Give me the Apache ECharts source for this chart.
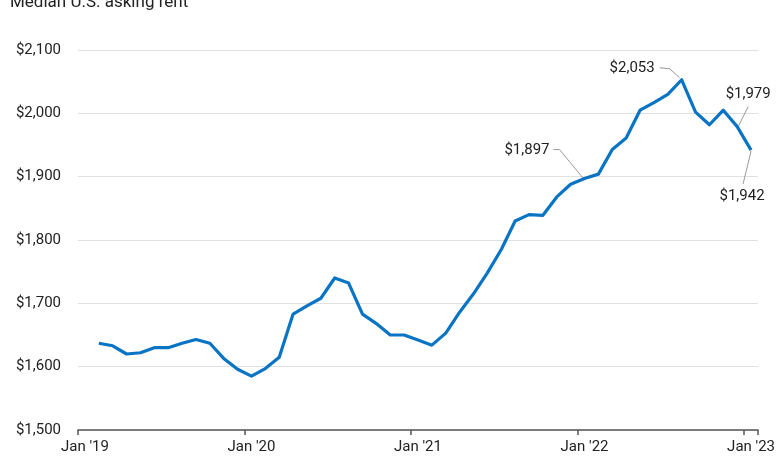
<!DOCTYPE html>
<html>
<head>
<meta charset="utf-8">
<script src="https://cdn.jsdelivr.net/npm/echarts@6/dist/echarts.min.js"></script>
<style>
html,body{margin:0;padding:0;background:#fff;}
#chart{width:780px;height:470px;}
</style>
</head>
<body>
<div id="chart"></div>
<script>
// Months Jan 2019 .. Jan 2023 (first month has no value)
const monthNames = ['Jan','Feb','Mar','Apr','May','Jun','Jul','Aug','Sep','Oct','Nov','Dec'];
const months = [];
for (let y = 2019; y <= 2023; y++) {
  for (let m = 0; m < 12; m++) {
    if (y === 2023 && m > 0) break;
    months.push(monthNames[m] + " '" + String(y).slice(2));
  }
}
const rentValues = [
  null,
  1637, 1633, 1620, 1622, 1630, 1630, 1637, 1643, 1637, 1613, 1596,
  1585, 1597, 1615, 1683, 1696, 1708, 1740, 1732, 1683, 1668, 1650, 1650,
  1642, 1634, 1653, 1686, 1715, 1748, 1785, 1830, 1840, 1839, 1868, 1888,
  1897, 1904, 1943, 1961, 2005, 2017, 2030, 2053, 2002, 1982, 2005, 1979,
  1942
];
const yTicks = [1500, 1600, 1700, 1800, 1900, 2000, 2100];
// annotations: [month index, label]
const annotations = [
  [36, '$1,897'],
  [43, '$2,053'],
  [47, '$1,979'],
  [48, '$1,942']
];

const FONT = 'Roboto, "Noto Sans", sans-serif';
const TEXT = '#222';
const chart = echarts.init(document.getElementById('chart'), null, {renderer: 'canvas'});
chart.setOption({
  animation: false,
  backgroundColor: '#fff',
  title: {
    text: 'Median U.S. asking rent',
    left: 10, top: -6, padding: 0,
    textStyle: {fontFamily: FONT, fontSize: 17, fontWeight: 'normal', color: TEXT}
  },
  grid: {left: 78, right: 22, top: 50, bottom: 40},
  xAxis: {
    type: 'category',
    data: months,
    boundaryGap: true,
    axisLine: {lineStyle: {color: '#555', width: 1.5}},
    axisTick: {show: true, interval: 11, length: 5, lineStyle: {color: '#555', width: 1.5}},
    axisLabel: {interval: 11, margin: 10, color: TEXT, fontFamily: FONT, fontSize: 15},
    splitLine: {show: false}
  },
  yAxis: {
    type: 'value',
    min: yTicks[0], max: yTicks[yTicks.length - 1], interval: 100,
    axisLine: {show: false},
    axisTick: {show: false},
    axisLabel: {
      margin: 17, color: TEXT, fontFamily: FONT, fontSize: 15,
      formatter: v => '$' + v.toLocaleString('en-US')
    },
    splitLine: {lineStyle: {color: '#e0e0e0', width: 1}}
  },
  series: [{
    type: 'line',
    data: rentValues,
    symbol: 'none',
    connectNulls: false,
    lineStyle: {color: '#0a74c4', width: 3.2, join: 'round'},
    z: 3
  }]
});

// Annotation leader lines and labels, positioned relative to data points
const annoLayout = {
  36: {text: [-35, -28, 'right'], line: [[-31, -29], [-25, -29], [-1, 0]]},
  43: {text: [-27, -12, 'right'], line: [[-22, -12], [-12, -11], [-2, -2]]},
  47: {text: [11, -32, 'center'], line: [[11, -20], [1, 0]]},
  48: {text: [-9, 46, 'center'], line: [[0, 1], [-8, 34]]}
};
const graphics = [];
annotations.forEach(([idx, label]) => {
  const p = chart.convertToPixel({seriesIndex: 0}, [idx, rentValues[idx]]);
  const L = annoLayout[idx];
  graphics.push({
    type: 'polyline',
    shape: {points: L.line.map(o => [p[0] + o[0], p[1] + o[1]])},
    style: {stroke: '#999', lineWidth: 1, fill: null},
    z: 2
  });
  graphics.push({
    type: 'text',
    x: p[0] + L.text[0], y: p[1] + L.text[1],
    style: {text: label, fill: TEXT, font: '15px ' + FONT, textAlign: L.text[2], textVerticalAlign: 'middle'},
    z: 4
  });
});
chart.setOption({graphic: graphics});
</script>
</body>
</html>
